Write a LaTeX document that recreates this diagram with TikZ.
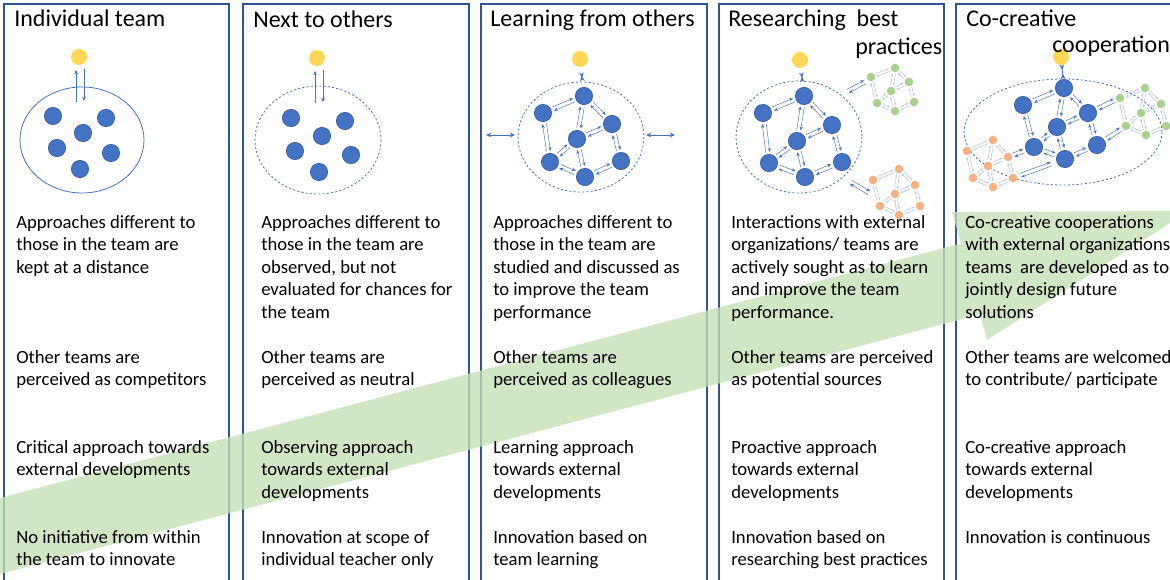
\documentclass[tikz,border=0pt]{standalone}
\usepackage{fontspec}
\setmainfont{Carlito}
\usetikzlibrary{calc,arrows.meta}
\definecolor{boxline}{HTML}{2F5597}
\definecolor{dotblue}{HTML}{4472C4}
\definecolor{dotedge}{HTML}{2F528F}
\definecolor{ydotc}{HTML}{FFD757}
\definecolor{gdotc}{HTML}{A9D18E}
\definecolor{odotc}{HTML}{F4B183}
\definecolor{arrblue}{HTML}{4472C4}
\definecolor{arrgrey}{HTML}{BCC8DE}
\definecolor{bandc}{HTML}{C5E0B4}
\tikzset{
 colbox/.style={draw=boxline, line width=0.9pt},
 bdot/.style={circle, fill=dotblue, draw=dotedge, line width=0.4pt, minimum size=13pt, inner sep=0},
 ydot/.style={circle, fill=ydotc, minimum size=12pt, inner sep=0},
 gdot/.style={circle, fill=gdotc, minimum size=6.5pt, inner sep=0},
 odot/.style={circle, fill=odotc, minimum size=6.5pt, inner sep=0},
 barr/.style={draw=arrblue, line width=0.35pt, -{Stealth[length=3pt,width=2.4pt]}},
 sarr/.style={draw=arrgrey, line width=0.45pt, -{Stealth[length=2pt,width=1.8pt]}},
 vert/.style={draw=arrblue, line width=0.45pt, -{Stealth[length=3.2pt,width=2.8pt]}},
 dbl/.style={draw=arrblue, line width=0.7pt, {Stealth[length=4pt,width=3.6pt]}-{Stealth[length=4pt,width=3.6pt]}},
 teamline/.style={draw=arrblue, line width=0.6pt},
 teamdash/.style={draw=arrblue, line width=0.6pt, dash pattern=on 1.6pt off 1.6pt},
 body/.style={anchor=north west, align=left, inner sep=0, font=\fontsize{14}{16.875}\selectfont},
 ttl/.style={anchor=base west, inner sep=0, font=\fontsize{18}{21.6}\selectfont},
}
\newcommand\twoway[6]{%
 \draw[#3, shorten <=#5, shorten >=#6] ($(#1)!#4!90:(#2)$) -- ($(#2)!#4!-90:(#1)$);
 \draw[#3, shorten <=#6, shorten >=#5] ($(#2)!#4!90:(#1)$) -- ($(#1)!#4!-90:(#2)$);}
\newcommand\netedges[5]{%
 \foreach \p/\q in {B/A,A/D,A/C,B/E,D/C,D/E,D/G,E/G,C/F,F/G}{\twoway{#1\p}{#1\q}{#2}{#3}{#4}{#5}}}
\newcommand\placenet[9]{% prefix, style, A..G coords
 \node[#2] (#1A) at #3 {};
 \node[#2] (#1B) at #4 {};
 \node[#2] (#1C) at #5 {};
 \node[#2] (#1D) at #6 {};
 \node[#2] (#1E) at #7 {};
 \node[#2] (#1F) at #8 {};
 \node[#2] (#1G) at #9 {};}
\begin{document}
\begin{tikzpicture}[x=0.75pt,y=-0.75pt]
\useasboundingbox (0,0) rectangle (1170,580);
\clip (0,0) rectangle (1170,580);
\fill[white] (0,0) rectangle (1170,580);
% column boxes
\draw[colbox] (4,4) rectangle (229,595);
\draw[colbox] (243,4) rectangle (469,595);
\draw[colbox] (481,4) rectangle (707,595);
\draw[colbox] (719,4) rectangle (944,595);
\draw[colbox] (956,4) rectangle (1190,595);

% ---------- column 1
\draw[teamline] (82,140) ellipse [x radius=62, y radius=53];
\node[ydot] (y1) at (79,57) {};
\foreach \n/\x/\y in {1/53/116,2/106/118,3/83/133,4/57/148,5/111/153,6/80/169}
  \node[bdot] (t1\n) at (\x,\y) {};
\coordinate (u1a) at (76,102); \coordinate (u1b) at (76,70);
\coordinate (d1a) at (84,69);  \coordinate (d1b) at (84,101);
\draw[vert] (u1a) -- (u1b);
\draw[vert] (d1a) -- (d1b);

% ---------- column 2
\draw[teamdash] (318,140) ellipse [x radius=63, y radius=54];
\node[ydot] (y2) at (317,58) {};
\foreach \n/\x/\y in {1/291/118,2/345/121,3/322/136,4/295/151,5/351/155,6/319/172}
  \node[bdot] (t2\n) at (\x,\y) {};
\coordinate (u2a) at (315,103); \coordinate (u2b) at (315,71);
\coordinate (d2a) at (323,70);  \coordinate (d2b) at (323,102);
\draw[vert] (u2a) -- (u2b);
\draw[vert] (d2a) -- (d2b);

% ---------- column 3
\draw[teamdash] (581,137) ellipse [x radius=63, y radius=55];
\node[ydot] (y3) at (580,59) {};
\placenet{c3}{bdot}{(584,96)}{(543,113)}{(612,124)}{(577,139)}{(550,162)}{(621,161)}{(585,177)}
\netedges{c3}{barr}{1.5pt}{8.2pt}{8.2pt}
\draw[dbl, shorten <=6.5pt, shorten >=7pt] (y3) -- (c3A);
\coordinate (l3a) at (486,135); \coordinate (l3b) at (515,135);
\coordinate (r3a) at (646,135); \coordinate (r3b) at (675,135);
\draw[dbl] (l3a) -- (l3b);
\draw[dbl] (r3a) -- (r3b);

% ---------- column 4
\draw[teamdash] (799,137) ellipse [x radius=63, y radius=56];
\node[ydot] (y4) at (800,60) {};
\placenet{c4}{bdot}{(804,96)}{(763,113)}{(832,125)}{(797,141)}{(769,163)}{(842,162)}{(805,177)}
\netedges{c4}{barr}{1.5pt}{8.2pt}{8.2pt}
\draw[dbl, shorten <=6.5pt, shorten >=7pt] (y4) -- (c4A);
\placenet{g4}{gdot}{(895,68)}{(871,77)}{(909,82)}{(891,91)}{(877,103)}{(914,102)}{(895,111)}
\netedges{g4}{sarr}{1.1pt}{4.2pt}{4.2pt}
\placenet{o4}{odot}{(899,169)}{(873,180)}{(915,185)}{(895,194)}{(880,206)}{(920,206)}{(899,215)}
\netedges{o4}{sarr}{1.1pt}{4.2pt}{4.2pt}
\coordinate (k4a) at (848,91); \coordinate (k4b) at (865,82);
\coordinate (k4c) at (851,182); \coordinate (k4d) at (869,193);
\twoway{k4a}{k4b}{barr}{1.5pt}{0pt}{0pt}
\twoway{k4c}{k4d}{barr}{1.5pt}{0pt}{0pt}

% ---------- column 5
\draw[teamdash] (1063,132) ellipse [x radius=99, y radius=53];
\node[ydot] (y5) at (1061,57) {};
\placenet{c5}{bdot}{(1064,88)}{(1023,105)}{(1088,113)}{(1057,127)}{(1034,147)}{(1097,145)}{(1065,159)}
\netedges{c5}{barr}{1.5pt}{8.2pt}{8.2pt}
\draw[dbl, shorten <=6.5pt, shorten >=7pt] (y5) -- (c5A);
\placenet{g5}{gdot}{(1145,88)}{(1120,98)}{(1161,104)}{(1141,113)}{(1126,126)}{(1166,126)}{(1146,135)}
\netedges{g5}{sarr}{1.1pt}{4.2pt}{4.2pt}
\placenet{o5}{odot}{(993,140)}{(967,151)}{(1008,157)}{(988,166)}{(973,178)}{(1013,178)}{(993,187)}
\netedges{o5}{sarr}{1.1pt}{4.2pt}{4.2pt}
\twoway{c5C}{g5B}{barr}{1.5pt}{8.2pt}{4.5pt}
\twoway{c5F}{g5E}{barr}{1.5pt}{8.2pt}{4.5pt}
\twoway{o5C}{c5E}{barr}{1.5pt}{4.5pt}{8.2pt}
\twoway{o5F}{c5G}{barr}{1.5pt}{6pt}{11pt}

% ---------- big green arrow
\fill[bandc, fill opacity=0.78] (-20,503.3) -- (960.9,243.4) -- (952,212) -- (1189,211) -- (987,340) -- (980,314.3) -- (-20,579.3) -- cycle;

% ---------- titles
\node[ttl] (h1) at (14,27) {Individual team};
\node[ttl] (h2) at (253,28) {Next to others};
\node[ttl] (h3) at (490,27) {Learning from others};
\node[ttl] (h4) at (728,27) {Researching~ best};
\node[ttl] (h4b) at (855,55) {practices};
\node[ttl] (h5) at (966,27) {Co-creative};
\node[ttl] (h5b) at (1052,53) {cooperation};

% ---------- body texts
\foreach \col/\x in {1/16,2/261,3/493,4/731,5/965}{
  \coordinate (p\col a) at (\x,212.3);
  \coordinate (p\col b) at (\x,347.3);
  \coordinate (p\col c) at (\x,437.3);
  \coordinate (p\col d) at (\x,527.3);
}
\node[body] (a1) at (p1a) {\strut Approaches different to\\those in the team are\\kept at a distance};
\node[body] (b1) at (p1b) {\strut Other teams are\\perceived as competitors};
\node[body] (c1) at (p1c) {\strut Critical approach towards\\external developments};
\node[body] (d1) at (p1d) {\strut No initiative from within\\the team to innovate};

\node[body] (a2) at (p2a) {\strut Approaches different to\\those in the team are\\observed, but not\\evaluated for chances for\\the team};
\node[body] (b2) at (p2b) {\strut Other teams are\\perceived as neutral};
\node[body] (c2) at (p2c) {\strut Observing approach\\towards external\\developments};
\node[body] (d2) at (p2d) {\strut Innovation at scope of\\individual teacher only};

\node[body] (a3) at (p3a) {\strut Approaches different to\\those in the team are\\studied and discussed as\\to improve the team\\performance};
\node[body] (b3) at (p3b) {\strut Other teams are\\perceived as colleagues};
\node[body] (c3) at (p3c) {\strut Learning approach\\towards external\\developments};
\node[body] (d3) at (p3d) {\strut Innovation based on\\team learning};

\node[body] (a4) at (p4a) {\strut Interactions with external\\organizations/ teams are\\actively sought as to learn\\and improve the team\\performance.};
\node[body] (b4) at (p4b) {\strut Other teams are perceived\\as potential sources};
\node[body] (c4) at (p4c) {\strut Proactive approach\\towards external\\developments};
\node[body] (d4) at (p4d) {\strut Innovation based on\\researching best practices};

\node[body] (a5) at (p5a) {\strut Co-creative cooperations\\with external organizations\\teams~ are developed as to\\jointly design future\\solutions};
\node[body] (b5) at (p5b) {\strut Other teams are welcomed\\to contribute/ participate};
\node[body] (c5) at (p5c) {\strut Co-creative approach\\towards external\\developments};
\node[body] (d5) at (p5d) {\strut Innovation is continuous};
\end{tikzpicture}
\end{document}
